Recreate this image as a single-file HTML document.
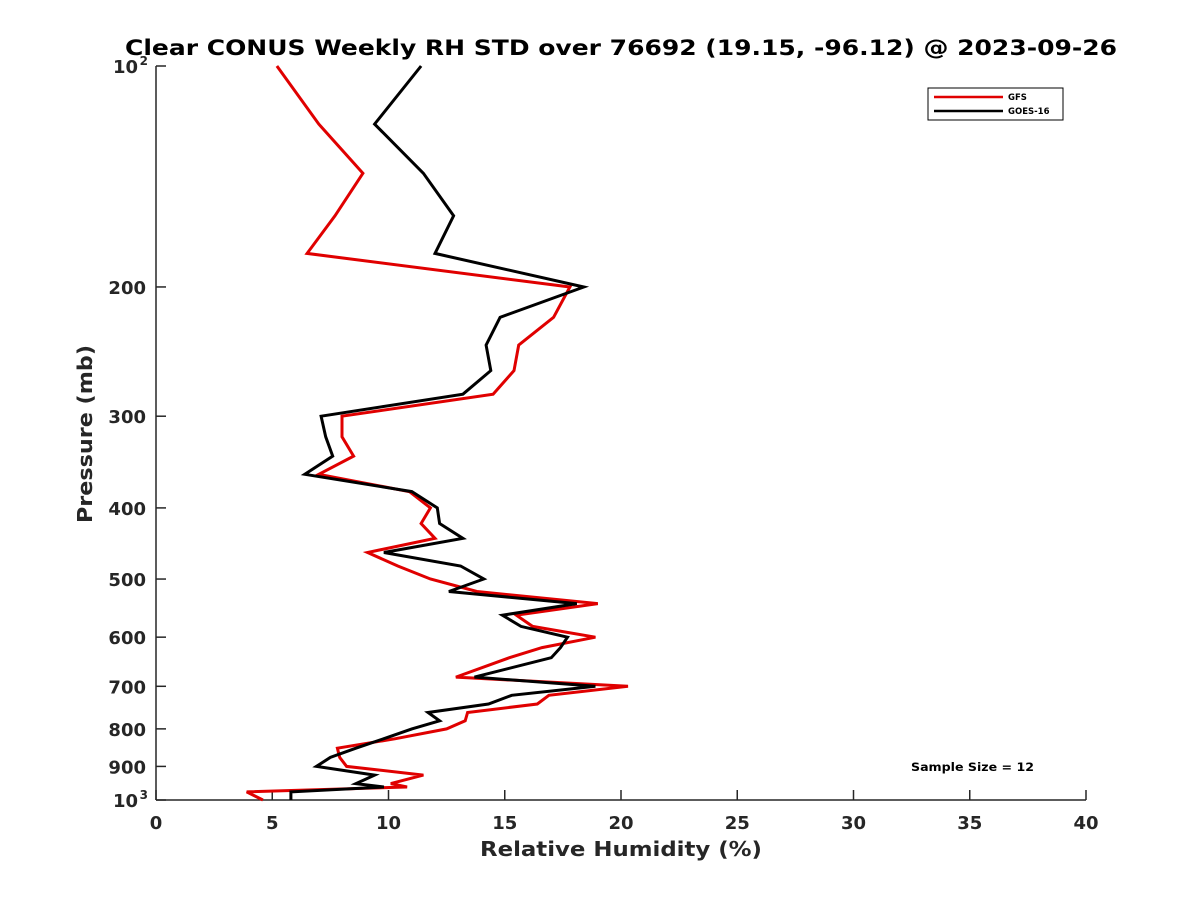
<!DOCTYPE html>
<html><head><meta charset="utf-8"><style>
body{margin:0;background:#fff;}
svg text{font-family:"DejaVu Sans","Liberation Sans",sans-serif;font-weight:bold;fill:#262626;}
</style></head><body>
<svg id="chart" width="1200" height="900" xmlns="http://www.w3.org/2000/svg">
<rect width="1200" height="900" fill="#fff"/>
<text x="125" y="55" font-size="21" textLength="992" lengthAdjust="spacingAndGlyphs" style="fill:#000">Clear CONUS Weekly RH STD over 76692 (19.15, -96.12) @ 2023-09-26</text>
<g id="axes"></g>
<g id="series"></g>
<g>
<rect x="928" y="88" width="135" height="32" fill="#fff" stroke="#000" stroke-width="1"/>
<line x1="934" y1="97" x2="1003" y2="97" stroke="#e00000" stroke-width="2.5"/>
<text x="1008" y="100" font-size="8.5" style="fill:#000">GFS</text>
<line x1="934" y1="111" x2="1003" y2="111" stroke="#000" stroke-width="2.5"/>
<text x="1008" y="114" font-size="8.5" style="fill:#000">GOES-16</text>
</g>
<text x="911" y="771" font-size="11.5" textLength="123" lengthAdjust="spacingAndGlyphs" style="fill:#000">Sample Size = 12</text>
<text x="480" y="856" font-size="20" textLength="282" lengthAdjust="spacingAndGlyphs">Relative Humidity (%)</text>
<text transform="translate(92,523) rotate(-90)" font-size="20" textLength="178" lengthAdjust="spacingAndGlyphs">Pressure (mb)</text>
</svg>
<script>
const pressures=[100,120,140,160,180,200,220,240,260,280,300,320,340,360,380,400,420,440,460,480,500,520,540,560,580,600,620,640,680,700,720,740,760,780,800,825,850,875,900,925,950,960,975,1000];
const gfsRH=[5.2,7.0,8.9,7.7,6.5,17.8,17.1,15.6,15.4,14.5,8.0,8.0,8.5,7.0,10.9,11.8,11.4,12.0,9.1,10.4,11.8,13.8,19.0,15.5,16.2,18.9,16.6,15.2,12.9,20.3,16.9,16.4,13.4,13.3,12.5,10.3,7.8,7.9,8.2,11.5,10.1,10.8,3.9,4.6];
const goesRH=[11.4,9.4,11.5,12.8,12.0,18.4,14.8,14.2,14.4,13.2,7.1,7.3,7.6,6.4,11.0,12.1,12.2,13.2,9.8,13.1,14.1,12.6,18.1,14.9,15.7,17.7,17.4,17.0,13.7,18.9,15.3,14.3,11.7,12.2,11.0,9.8,8.6,7.5,6.9,9.4,8.6,9.8,5.8,5.8];
const xTicks=[0,5,10,15,20,25,30,35,40];
const yTicks=[100,200,300,400,500,600,700,800,900,1000];
const yTickLabels=["10|2","200","300","400","500","600","700","800","900","10|3"];
const NS="http://www.w3.org/2000/svg";
const L=156,R=1086,T=66,B=800;
function xs(v){return L+(v-0)/(40-0)*(R-L);}
function ys(p){return T+Math.log10(p/100)*(B-T);}
function mk(tag,attrs,parent){const e=document.createElementNS(NS,tag);for(const k in attrs)e.setAttribute(k,attrs[k]);parent.appendChild(e);return e;}
const ax=document.getElementById('axes');
let a=mk('line',{x1:L,y1:T,x2:L,y2:B,stroke:'#262626','stroke-width':1.5},ax);


a=mk('line',{x1:L,y1:B,x2:R,y2:B,stroke:'#262626','stroke-width':1.5},ax);


xTicks.forEach(v=>{
  const x=xs(v);
  mk('line',{x1:x,y1:B,x2:x,y2:B-10,stroke:'#262626','stroke-width':1.5},ax);
  const t=mk('text',{x:x,y:B+29,'text-anchor':'middle','font-size':18},ax);
  t.textContent=v;
  
  
});
yTicks.forEach((p,i)=>{
  const y=ys(p);
  mk('line',{x1:L,y1:y,x2:L+10,y2:y,stroke:'#262626','stroke-width':1.5},ax);
  const lab=yTickLabels[i];
  if(lab.indexOf('|')>=0){
    const parts=lab.split('|');
    const t=mk('text',{x:L-18,y:y+7,'text-anchor':'end','font-size':18},ax);
    t.textContent=parts[0];
    
    
    const s=mk('text',{x:L-8,y:y-1,'text-anchor':'end','font-size':12},ax);
    s.textContent=parts[1];
    
    
  } else {
    const t=mk('text',{x:L-10,y:y+7,'text-anchor':'end','font-size':18},ax);
    t.textContent=lab;
    
    
  }
});
const sg=document.getElementById('series');
function line(vals,color,name){
  const pts=vals.map((v,i)=>xs(v).toFixed(1)+','+ys(pressures[i]).toFixed(1)).join(' ');
  const pl=mk('polyline',{points:pts,fill:'none',stroke:color,'stroke-width':3,'stroke-linejoin':'miter'},sg);
  
  
}
line(gfsRH,'#e00000','gfs-line');
line(goesRH,'#000','goes16-line');
</script>
</body></html>
